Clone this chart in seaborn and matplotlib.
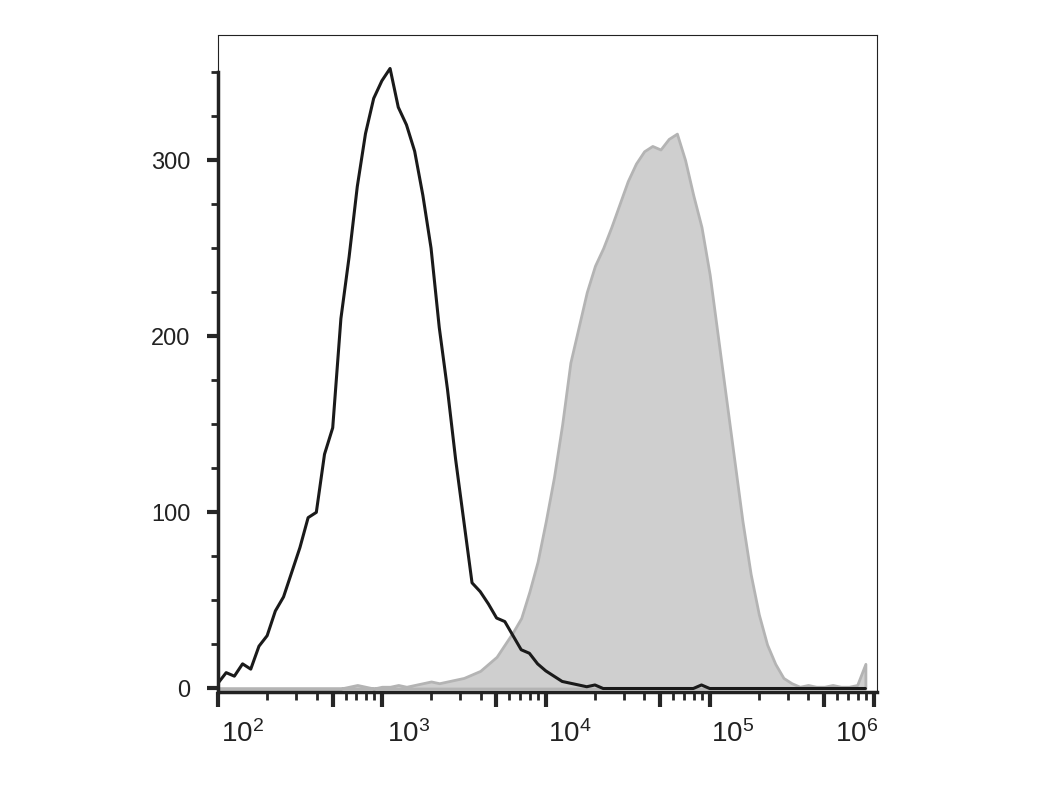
import numpy as np
import pandas as pd
import matplotlib
matplotlib.use("Agg")
import matplotlib.pyplot as plt
import seaborn as sns
from matplotlib.ticker import FixedLocator, NullFormatter

# log10 bin centres, 0.05 decade wide
log_bins = np.round(np.arange(2.0, 5.999, 0.05), 2)

black_counts = [3, 9, 7, 14, 11, 24, 30, 44, 52, 66, 80, 97, 100, 133, 148, 210,
                245, 285, 315, 335, 345, 352, 330, 320, 305, 280, 250, 205, 170, 130,
                95, 60, 55, 48, 40, 38, 30, 22, 20, 14, 10, 7, 4, 3, 2, 1, 2, 0,
                0, 0, 0, 0, 0, 0, 0, 0, 0, 0, 0, 2, 0, 0, 0, 0, 0, 0, 0, 0,
                0, 0, 0, 0, 0, 0, 0, 0, 0, 0, 0, 0]

gray_counts = [0, 0, 0, 0, 0, 0, 0, 0, 0, 0, 0, 0, 0, 0, 0, 0, 1, 2, 1, 0,
               1, 1, 2, 1, 2, 3, 4, 3, 4, 5, 6, 8, 10, 14, 18, 25, 32, 40, 55, 72,
               95, 120, 150, 185, 205, 225, 240, 250, 262, 275, 288, 298, 305, 308, 306, 312,
               315, 300, 280, 262, 235, 200, 165, 130, 95, 65, 42, 25, 14, 6,
               3, 1, 2, 1, 1, 2, 1, 1, 2, 14]

df = pd.DataFrame({"x": 10 ** log_bins, "black": black_counts, "gray": gray_counts})

sns.set_style("white")
plt.rcParams["font.family"] = ["Liberation Sans", "DejaVu Sans"]
fig = plt.figure(figsize=(10.51, 7.88), dpi=100)
ax = fig.add_axes([0.2074, 0.1218, 0.6271, 0.8338])

ax.fill_between(df["x"], df["gray"], color="#cfcfcf", edgecolor="#b4b4b4", lw=2)
sns.lineplot(data=df, x="x", y="black", color="#1a1a1a", lw=2.2, ax=ax)

ax.set_xscale("log")
ax.set_xlim(100, 1.05e6)
ax.set_ylim(-2, 371)
ax.set_xlabel("")
ax.set_ylabel("")

for s in ax.spines.values():
    s.set_linewidth(0.8)
    s.set_color("#222222")
ax.spines["left"].set_linewidth(2.5)
ax.spines["left"].set_bounds(-2, 350)
ax.spines["bottom"].set_linewidth(2.5)
ax.axvline(100, ymin=0.9, ymax=1, color="#222222", lw=0.8, clip_on=False)

ax.yaxis.set_major_locator(FixedLocator([0, 100, 200, 300]))
ax.yaxis.set_minor_locator(FixedLocator([25, 50, 75, 125, 150, 175, 225, 250, 275, 325, 350]))
ax.tick_params(axis="y", which="major", direction="out", length=8, width=3, labelsize=17,
               left=True, pad=12, labelcolor="#222222")
ax.tick_params(axis="y", which="minor", direction="out", length=5, width=2, left=True)

majors = [1e2, 1e3, 1e4, 1e5, 1e6]
mids = [5e2, 5e3, 5e4, 5e5]
minors = [m * 10 ** k for k in range(2, 6) for m in (2, 3, 4, 6, 7, 8, 9)]
ax.xaxis.set_major_locator(FixedLocator(majors + mids))
ax.xaxis.set_minor_locator(FixedLocator(minors))
ax.xaxis.set_major_formatter(NullFormatter())
ax.xaxis.set_minor_formatter(NullFormatter())
ax.tick_params(axis="x", which="major", direction="out", length=11, width=3, bottom=True)
ax.tick_params(axis="x", which="minor", direction="out", length=6, width=2, bottom=True)

label_pos = [1.42e2, 1.45e3, 1.4e4, 1.38e5, 7.9e5]
for p, k in zip(label_pos, range(2, 7)):
    ax.text(p, -18, f"$\\mathregular{{10^{{{k}}}}}$", ha="center", va="top", fontsize=20, color="#222222")

fig.savefig("out.png", dpi=100)
